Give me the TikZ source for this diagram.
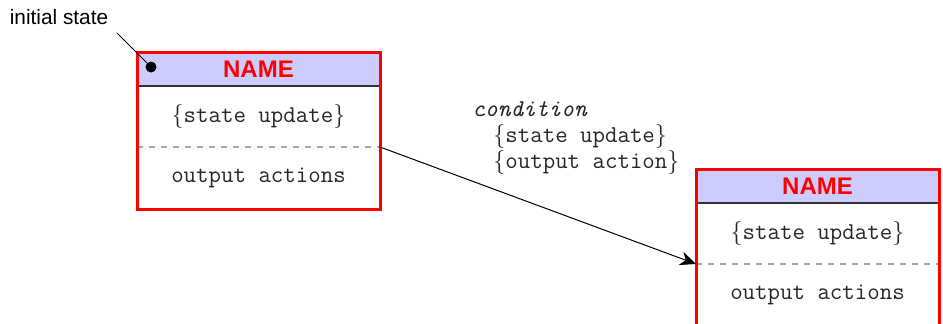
\documentclass[tikz,border=0pt]{standalone}
\usepackage{fontspec}
\setsansfont{Liberation Sans}
\usetikzlibrary{arrows.meta}
\definecolor{hdrblue}{RGB}{204,204,255}
\newcommand{\mono}{\fontsize{12.1}{13}\selectfont\ttfamily}

\begin{document}
\begin{tikzpicture}[x=0.5pt,y=-0.5pt,
	statetext/.style={font=\mono, text=black!85, inner sep=0},
	statename/.style={font=\sffamily\bfseries\fontsize{12}{14}\selectfont, text=red, inner sep=0},
	transtext/.style={font=\mono, text=black!85, align=left, inner sep=0}]
	\useasboundingbox (0,0) rectangle (943,323);
	% the two states
	\foreach \s/\x/\y in {a/137/52, b/696/169}{
		\begin{scope}[shift={(\x,\y)}]
			\filldraw[fill=hdrblue, draw=black!80, line width=0.6pt] (0,0) rectangle (243,34);
			\node[statename] (\s-name) at (121.5,17) {NAME};
			\node[statetext] (\s-upd) at (121.5,64) {$\{$state update$\}$};
			\draw[dashed, black!35, line width=0.6pt] (0,95) coordinate (\s-w) -- (243,95) coordinate (\s-e);
			\node[statetext] (\s-out) at (121.5,126) {output actions};
			\draw[red, line width=1.5pt] (0,0) rectangle (243,157);
		\end{scope}
	}
	% initial state marker
	\node[circle, fill=black, inner sep=0, minimum size=5.5pt] (a-dot) at (151,67) {};
	\node[font=\sffamily\fontsize{10.4}{12}\selectfont, inner sep=0] (init) at (59,17) {initial state};
	\coordinate (init-tail) at (117,33);
	\draw[line width=0.5pt] (init-tail) -- (a-dot);
	% transition
	\node[transtext, anchor=north west] (cond) at (472,101)
		{\textit{condition}\\
		 \hspace*{10.5pt}$\{$state update$\}$\\
		 \hspace*{10.5pt}$\{$output action$\}$};
	\draw[-{Stealth[length=8pt,width=7pt]}, line width=0.5pt] (a-e) -- (b-w);
\end{tikzpicture}
\end{document}
